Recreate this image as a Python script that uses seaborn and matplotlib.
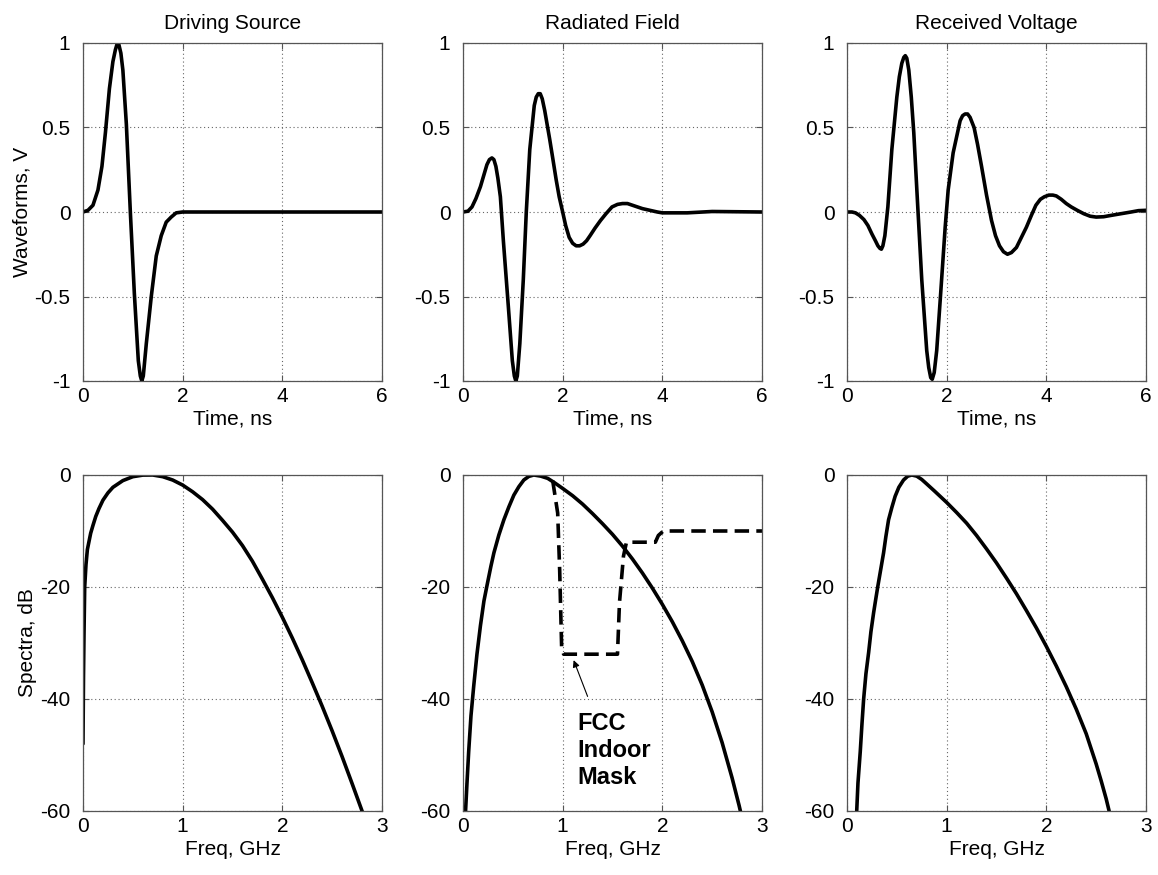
import matplotlib
matplotlib.use("Agg")
import matplotlib.pyplot as plt
import seaborn as sns

# ---- time waveforms, t in ns ----
t_src = [0.0, 0.1, 0.2, 0.3, 0.38, 0.45, 0.53, 0.6, 0.65, 0.69, 0.72, 0.76, 0.8, 0.87, 0.95,
         1.03, 1.11, 1.15, 1.18, 1.21, 1.27, 1.37, 1.47, 1.57, 1.67, 1.77, 1.87, 2.0, 6.0]
v_src = [0.0, 0.01, 0.04, 0.13, 0.27, 0.47, 0.73, 0.89, 0.96, 1.0, 0.99, 0.94, 0.84, 0.52, 0.0,
         -0.48, -0.88, -0.97, -1.0, -0.97, -0.78, -0.5, -0.26, -0.14, -0.06, -0.03, -0.005, 0.0, 0.0]

t_rad = [0.0, 0.1, 0.18, 0.26, 0.35, 0.42, 0.48, 0.53, 0.58, 0.62, 0.66, 0.7, 0.75, 0.81,
         0.91, 0.99, 1.03, 1.06, 1.09, 1.14, 1.21, 1.27, 1.34, 1.43, 1.47, 1.51, 1.55, 1.59,
         1.64, 1.74, 1.8, 1.87, 1.93, 2.0, 2.06, 2.13, 2.2, 2.27, 2.34, 2.41, 2.48, 2.55,
         2.65, 2.76, 2.87, 2.99, 3.1, 3.2, 3.3, 3.4, 3.5, 3.6, 3.75, 3.9, 4.0, 4.5, 5.0, 6.0]
v_rad = [0.0, 0.005, 0.03, 0.08, 0.15, 0.22, 0.28, 0.31, 0.32, 0.31, 0.27, 0.2, 0.09, -0.17,
         -0.56, -0.88, -0.97, -1.0, -0.97, -0.78, -0.40, 0.0, 0.37, 0.63, 0.68, 0.70, 0.70, 0.67,
         0.6, 0.43, 0.32, 0.19, 0.09, 0.0, -0.08, -0.15, -0.185, -0.2, -0.2, -0.19, -0.17, -0.14,
         -0.095, -0.05, -0.01, 0.03, 0.045, 0.05, 0.05, 0.04, 0.03, 0.02, 0.01, 0.0, -0.005,
         -0.005, 0.003, 0.0]

t_rec = [0.0, 0.1, 0.17, 0.25, 0.34, 0.42, 0.5, 0.57, 0.62, 0.66, 0.69, 0.72, 0.76, 0.82,
         0.9, 1.0, 1.05, 1.1, 1.14, 1.17, 1.2, 1.24, 1.29, 1.34, 1.42, 1.5, 1.6, 1.64, 1.68,
         1.71, 1.75, 1.8, 1.88, 1.97, 2.03, 2.13, 2.27, 2.32, 2.37, 2.42, 2.47, 2.55, 2.62,
         2.7, 2.8, 2.9, 2.98, 3.06, 3.14, 3.22, 3.3, 3.4, 3.5, 3.6, 3.7, 3.79, 3.88, 3.96,
         4.05, 4.13, 4.2, 4.3, 4.4, 4.5, 4.62, 4.75, 4.88, 5.0, 5.15, 5.3, 5.5, 5.7, 5.85, 6.0]
v_rec = [0.0, 0.0, -0.005, -0.02, -0.045, -0.08, -0.13, -0.17, -0.2, -0.215, -0.22, -0.2,
         -0.14, 0.03, 0.37, 0.68, 0.8, 0.88, 0.915, 0.925, 0.91, 0.84, 0.68, 0.47, 0.03, -0.40,
         -0.82, -0.92, -0.98, -0.99, -0.95, -0.82, -0.48, -0.09, 0.13, 0.35, 0.54, 0.57, 0.58,
         0.58, 0.56, 0.5, 0.4, 0.27, 0.1, -0.05, -0.14, -0.2, -0.235, -0.25, -0.24, -0.21,
         -0.15, -0.09, -0.02, 0.04, 0.075, 0.09, 0.1, 0.1, 0.095, 0.075, 0.05, 0.03, 0.01,
         -0.01, -0.025, -0.03, -0.028, -0.02, -0.01, 0.0, 0.008, 0.01]

# ---- spectra in dB, f in GHz ----
f_src = [0.0, 0.005, 0.01, 0.017, 0.03, 0.044, 0.077, 0.1, 0.128, 0.16, 0.2, 0.25, 0.3, 0.4,
         0.5, 0.6, 0.7, 0.8, 0.9, 1.0, 1.1, 1.2, 1.3, 1.4, 1.5, 1.6, 1.7, 1.8, 1.9, 2.0, 2.1,
         2.2, 2.3, 2.4, 2.5, 2.6, 2.7, 2.8, 2.82]
db_src = [-48, -36, -28.5, -20, -16, -13.3, -10.4, -9.0, -7.4, -6.0, -4.5, -3.2, -2.2, -1.0,
          -0.3, -0.02, 0.0, -0.3, -0.9, -1.8, -3.0, -4.4, -6.1, -8.1, -10.2, -12.6, -15.4,
          -18.6, -21.9, -25.4, -29.1, -33.0, -37.1, -41.3, -45.7, -50.3, -55.1, -60.0, -61.0]

f_rad = [0.02, 0.04, 0.057, 0.08, 0.108, 0.14, 0.175, 0.21, 0.24, 0.28, 0.31, 0.36, 0.41,
         0.46, 0.51, 0.56, 0.61, 0.66, 0.71, 0.78, 0.85, 0.92, 1.0, 1.1, 1.2, 1.3, 1.4, 1.5,
         1.6, 1.7, 1.8, 1.9, 2.0, 2.1, 2.2, 2.3, 2.4, 2.5, 2.6, 2.7, 2.77, 2.8]
db_rad = [-62, -55, -49.4, -43, -37.6, -32, -26.9, -22.5, -19.8, -16.3, -13.9, -10.7, -8.0,
          -5.7, -3.6, -2.1, -0.9, -0.25, 0.0, -0.2, -0.6, -1.4, -2.4, -3.7, -5.2, -6.9, -8.7,
          -10.6, -12.7, -15.0, -17.5, -20.2, -23.1, -26.2, -29.6, -33.3, -37.5, -42.3, -47.8,
          -54.1, -59.0, -61.3]

f_mask = [0.90, 0.95, 0.97, 0.99, 1.01, 1.55, 1.57, 1.61, 1.64, 1.93, 1.96, 2.01, 3.0]
db_mask = [-1.0, -6.8, -17, -31, -32, -32, -22.8, -14.5, -12, -12, -10.8, -10, -10]

f_rec = [0.095, 0.11, 0.133, 0.15, 0.167, 0.19, 0.217, 0.24, 0.267, 0.29, 0.31, 0.34, 0.367,
         0.39, 0.417, 0.45, 0.483, 0.52, 0.567, 0.61, 0.65, 0.7, 0.75, 0.8, 0.88, 0.94, 1.0,
         1.1, 1.2, 1.3, 1.4, 1.5, 1.6, 1.7, 1.8, 1.9, 2.0, 2.1, 2.2, 2.3, 2.4, 2.5, 2.55,
         2.6, 2.63]
db_rec = [-61, -55, -49.4, -44.5, -40, -35.5, -31.7, -28, -24.6, -22, -19.8, -16.7, -13.9,
          -11.0, -8.0, -5.8, -3.8, -2.2, -0.9, -0.2, 0.0, -0.2, -0.8, -1.6, -2.9, -3.9, -4.9,
          -6.7, -8.6, -10.8, -13.2, -15.7, -18.4, -21.2, -24.2, -27.3, -30.6, -34.1, -37.8,
          -41.8, -46.2, -51.6, -54.6, -57.8, -60.0]

titles = ["Driving Source", "Radiated Field", "Received Voltage"]
time_ticks = [0, 2, 4, 6]
volt_ticks = [-1, -0.5, 0, 0.5, 1]
volt_labels = ["-1", "-0.5", "0", "0.5", "1"]
freq_ticks = [0, 1, 2, 3]
db_ticks = [-60, -40, -20, 0]
db_labels = ["-60", "-40", "-20", "0"]

sns.set_style("ticks")
plt.rcParams["font.family"] = ["Liberation Sans", "DejaVu Sans"]
plt.rcParams["font.size"] = 15
plt.rcParams["text.color"] = "black"
plt.rcParams["axes.labelcolor"] = "black"
plt.rcParams["xtick.color"] = "black"
plt.rcParams["ytick.color"] = "black"

fig = plt.figure(figsize=(11.58, 8.75), dpi=100)

lefts = [83 / 1158, 463 / 1158, 847 / 1158]
width = 299 / 1158
top_row = (1 - 381 / 875, 338 / 875)
bot_row = (1 - 811 / 875, 336 / 875)


def style_axes(ax):
    # matlab-ish box, dotted grid, inward ticks
    for s in ax.spines.values():
        s.set_visible(True)
        s.set_color("#555555")
        s.set_linewidth(0.9)
    ax.grid(True, linestyle=(0, (1, 2.5)), color="#666666", linewidth=0.8)
    ax.tick_params(direction="in", length=4, width=0.8, color="#555555",
                   labelsize=15, labelcolor="black", top=True, right=True)
    ax.tick_params(axis="x", pad=4)
    ax.tick_params(axis="y", pad=9)
    ax.set_axisbelow(True)


wave_data = [(t_src, v_src), (t_rad, v_rad), (t_rec, v_rec)]
spec_data = [(f_src, db_src), (f_rad, db_rad), (f_rec, db_rec)]

for i in range(3):
    # top row: time waveforms
    ax = fig.add_axes([lefts[i], top_row[0], width, top_row[1]])
    sns.lineplot(x=wave_data[i][0], y=wave_data[i][1], ax=ax, color="black",
                 linewidth=2.6, estimator=None, sort=False)
    ax.set_xlim(0, 6)
    ax.set_ylim(-1, 1)
    ax.set_xticks(time_ticks)
    ax.set_xticklabels([str(v) for v in time_ticks])
    ax.set_yticks(volt_ticks)
    ax.set_yticklabels(volt_labels)
    ax.set_title(titles[i], fontsize=15, pad=10, color="black")
    ax.set_xlabel("Time, ns", fontsize=15, labelpad=3)
    ax.set_ylabel("Waveforms, V" if i == 0 else "", fontsize=15, labelpad=2)
    style_axes(ax)

    # bottom row: spectra
    ax2 = fig.add_axes([lefts[i], bot_row[0], width, bot_row[1]])
    sns.lineplot(x=spec_data[i][0], y=spec_data[i][1], ax=ax2, color="black",
                 linewidth=2.6, estimator=None, sort=False)
    if i == 1:
        sns.lineplot(x=f_mask, y=db_mask, ax=ax2, color="black", linewidth=2.6,
                     estimator=None, sort=False, linestyle=(0, (4, 2)))
        ax2.annotate("", xy=(1.1, -32.6), xytext=(1.26, -40),
                     arrowprops=dict(arrowstyle="-|>", color="black", lw=0.8,
                                     mutation_scale=10))
        ax2.text(1.15, -42.3, "FCC\nIndoor\nMask", ha="left", va="top",
                 fontsize=17, fontweight="bold", linespacing=1.22, color="black")
    ax2.set_xlim(0, 3)
    ax2.set_ylim(-60, 0)
    ax2.set_xticks(freq_ticks)
    ax2.set_xticklabels([str(v) for v in freq_ticks])
    ax2.set_yticks(db_ticks)
    ax2.set_yticklabels(db_labels)
    ax2.set_xlabel("Freq, GHz", fontsize=15, labelpad=3)
    ax2.set_ylabel("Spectra, dB" if i == 0 else "", fontsize=15, labelpad=2)
    style_axes(ax2)

fig.savefig("out.png", dpi=100, facecolor="white")
